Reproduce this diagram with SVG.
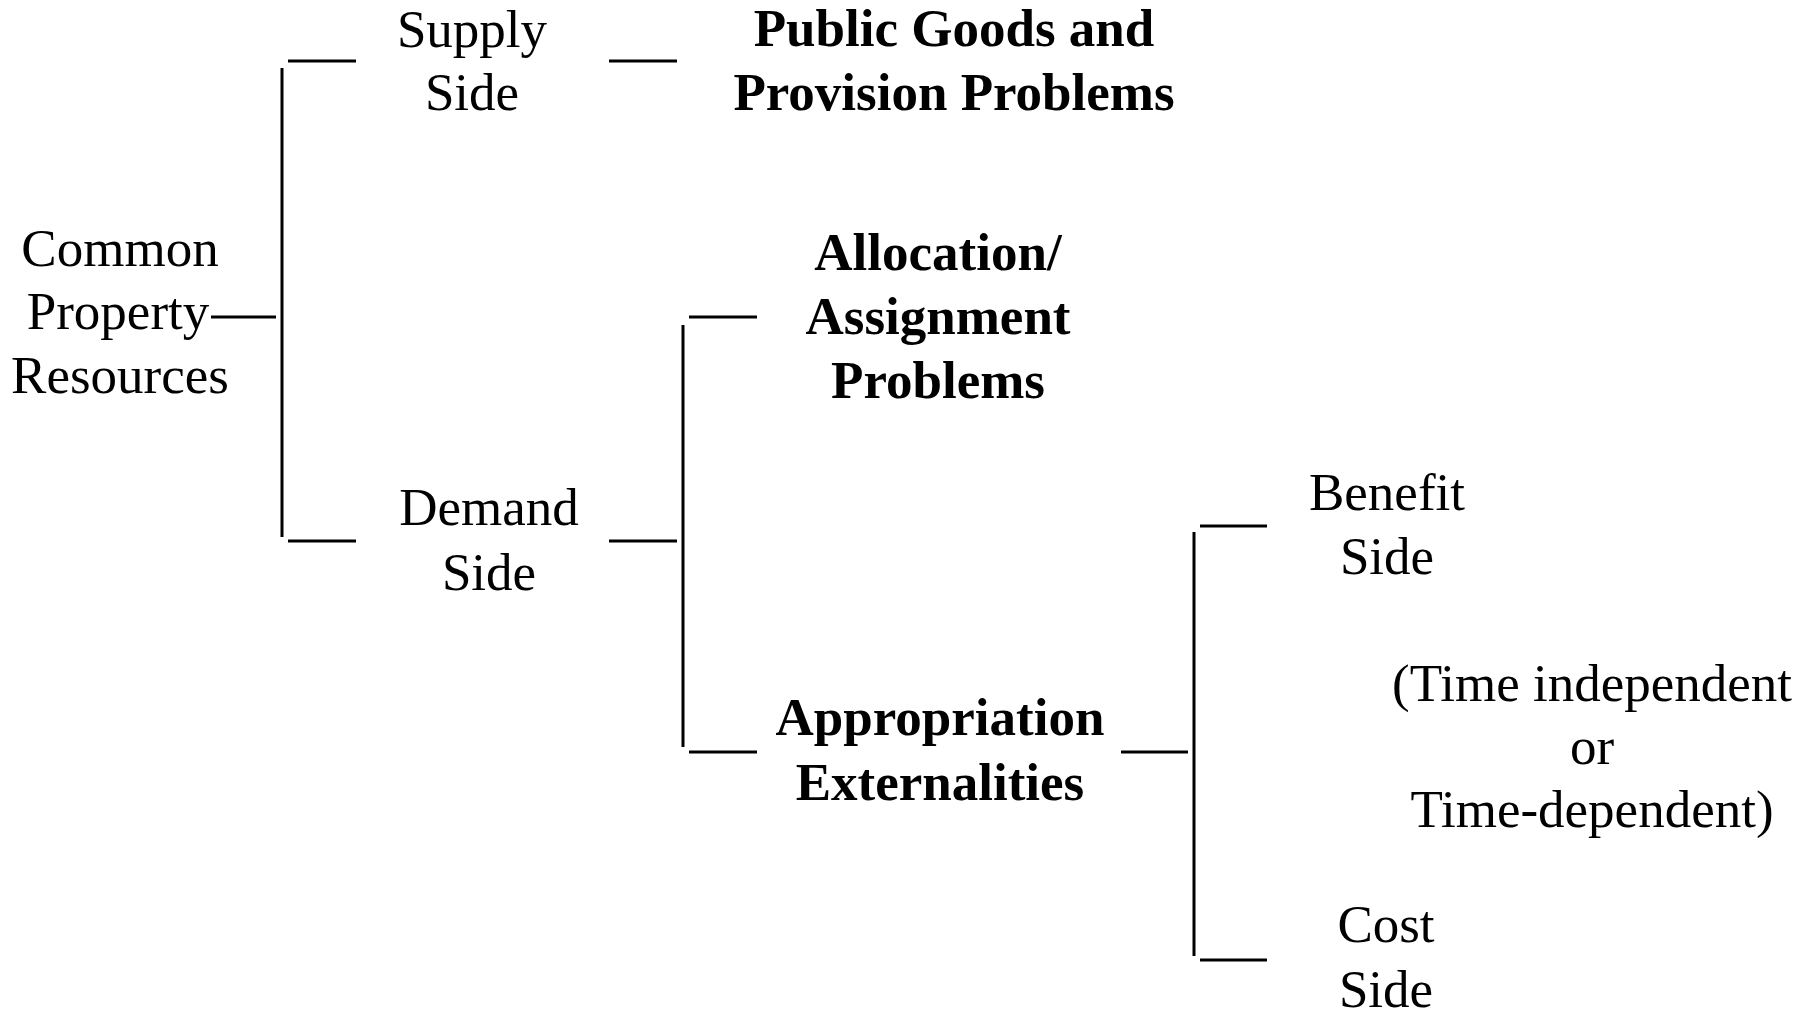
<svg xmlns="http://www.w3.org/2000/svg" width="1812" height="1010" viewBox="0 0 1812 1010">
<style>
  text { font-family: "Liberation Serif", "Times New Roman", serif; font-size: 53px; fill: #000; text-anchor: middle; }
  .b { font-weight: bold; }
  line { stroke: #000; stroke-width: 3; }
</style>
<rect width="1812" height="1010" fill="#fff"/>
<g id="connectors">
  <line x1="282" y1="68" x2="282" y2="537"/>
  <line x1="211" y1="317" x2="276" y2="317"/>
  <line x1="288" y1="61" x2="356" y2="61"/>
  <line x1="609" y1="61" x2="677" y2="61"/>
  <line x1="288" y1="541" x2="356" y2="541"/>
  <line x1="609" y1="541" x2="677" y2="541"/>
  <line x1="683" y1="325" x2="683" y2="747"/>
  <line x1="689" y1="317" x2="757" y2="317"/>
  <line x1="689" y1="752" x2="757" y2="752"/>
  <line x1="1121" y1="752" x2="1188" y2="752"/>
  <line x1="1194" y1="532" x2="1194" y2="956"/>
  <line x1="1200" y1="526" x2="1267" y2="526"/>
  <line x1="1200" y1="960" x2="1267" y2="960"/>
</g>
<g id="common-property">
  <text x="120" y="266">Common</text>
  <text x="118" y="329">Property</text>
  <text x="120" y="393">Resources</text>
</g>
<g id="supply-side">
  <text x="472" y="47">Supply</text>
  <text x="472" y="110">Side</text>
</g>
<g id="public-goods">
  <text class="b" x="954" y="46">Public Goods and</text>
  <text class="b" x="954" y="110">Provision Problems</text>
</g>
<g id="demand-side">
  <text x="489" y="525">Demand</text>
  <text x="489" y="590">Side</text>
</g>
<g id="allocation">
  <text class="b" x="938" y="270">Allocation/</text>
  <text class="b" x="938" y="334">Assignment</text>
  <text class="b" x="938" y="398">Problems</text>
</g>
<g id="appropriation">
  <text class="b" x="940" y="735">Appropriation</text>
  <text class="b" x="940" y="800">Externalities</text>
</g>
<g id="benefit-side">
  <text x="1387" y="510">Benefit</text>
  <text x="1387" y="574">Side</text>
</g>
<g id="time-note">
  <text x="1592" y="701">(Time independent</text>
  <text x="1592" y="764">or</text>
  <text x="1592" y="827">Time-dependent)</text>
</g>
<g id="cost-side">
  <text x="1386" y="942">Cost</text>
  <text x="1386" y="1007">Side</text>
</g>
</svg>
